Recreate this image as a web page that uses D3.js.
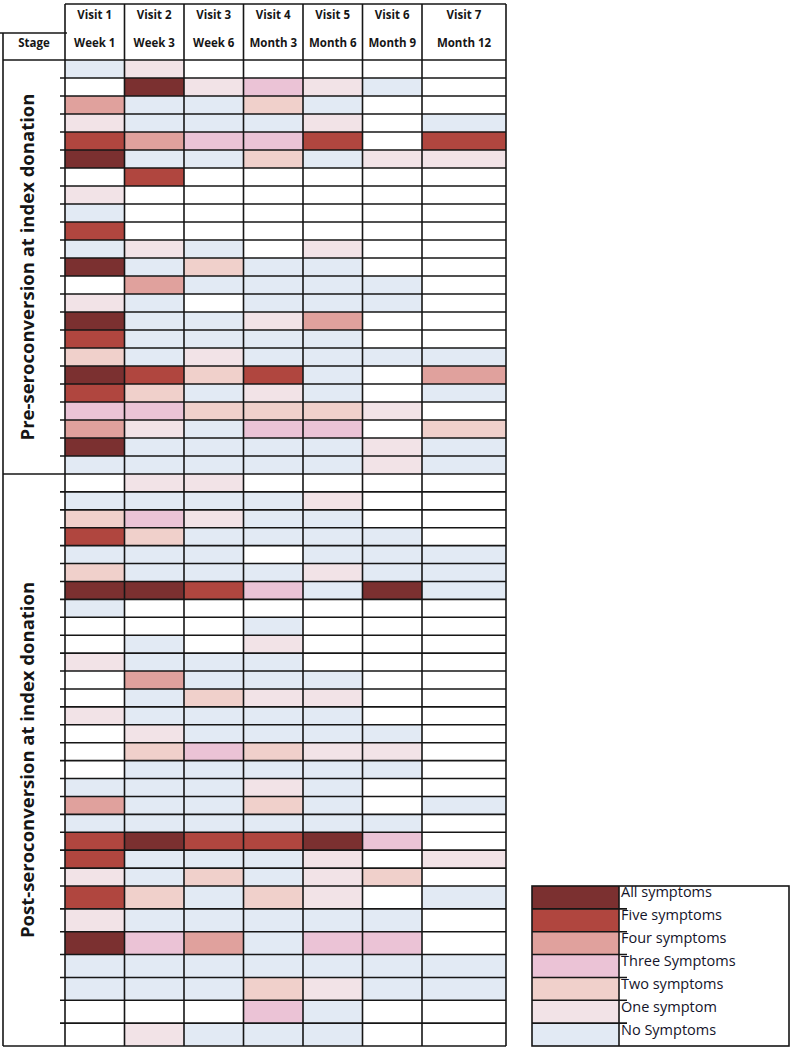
<!DOCTYPE html>
<html><head><meta charset="utf-8">
<script src="https://cdn.jsdelivr.net/npm/d3@7"></script>
<style>body{margin:0;background:#fff;} svg{display:block;font-family:"Open Sans",sans-serif;}</style>
</head><body><svg id="c" width="796" height="1050"></svg>
<script>
// ---- data ----
const visits = ["Visit 1","Visit 2","Visit 3","Visit 4","Visit 5","Visit 6","Visit 7"];
const timepoints = ["Week 1","Week 3","Week 6","Month 3","Month 6","Month 9","Month 12"];
const stages = ["Pre-seroconversion at index donation","Post-seroconversion at index donation"];
// number of symptoms per participant per visit (6 = all symptoms, null = no visit)
const preRows = [
  [0,1,null,null,null,null,null],
  [null,6,1,3,1,0,null],
  [4,0,0,2,0,null,null],
  [1,0,0,0,1,null,0],
  [5,4,3,3,5,null,5],
  [6,0,0,2,0,1,1],
  [null,5,null,null,null,null,null],
  [1,null,null,null,null,null,null],
  [0,null,null,null,null,null,null],
  [5,null,null,null,null,null,null],
  [0,1,0,null,1,null,null],
  [6,0,2,0,0,null,null],
  [null,4,0,0,0,0,null],
  [1,0,null,0,0,0,null],
  [6,0,0,1,4,null,null],
  [5,0,0,0,0,null,null],
  [2,0,1,0,0,0,0],
  [6,5,2,5,0,null,4],
  [5,2,0,1,0,null,0],
  [3,3,2,2,2,1,null],
  [4,1,0,3,3,null,2],
  [6,0,0,0,0,1,0],
  [0,0,0,0,0,1,0]
];
const postRows = [
  [null,1,1,null,null,null,null],
  [0,0,0,0,1,null,null],
  [2,3,1,0,0,null,null],
  [5,2,0,0,0,0,null],
  [0,0,0,null,0,0,0],
  [2,0,0,0,1,0,0],
  [6,6,5,3,0,6,0],
  [0,null,null,null,null,null,null],
  [null,null,null,0,null,null,null],
  [null,0,null,1,null,null,null],
  [1,0,0,0,null,null,null],
  [null,4,0,0,0,null,null],
  [null,0,2,1,1,null,null],
  [1,0,0,0,0,null,null],
  [null,1,0,0,0,0,null],
  [null,2,3,2,1,1,null],
  [null,0,0,0,0,0,null],
  [0,0,0,1,0,null,null],
  [4,0,0,2,0,null,0],
  [0,0,0,0,0,0,null],
  [5,6,5,5,6,3,null],
  [5,0,0,0,1,null,1],
  [1,0,2,0,1,2,null],
  [5,2,0,2,1,null,0],
  [1,0,0,0,0,0,null],
  [6,3,4,0,3,3,null],
  [0,0,0,0,0,0,0],
  [0,0,0,2,1,0,0],
  [null,null,null,3,0,null,null],
  [null,1,0,0,0,null,null]
];
const levels = [6,5,4,3,2,1,0];
const levelLabels = ["All symptoms","Five symptoms","Four symptoms","Three Symptoms","Two symptoms","One symptom","No Symptoms"];

// ---- layout ----
const svg = d3.select("#c");
const ink = "#161616";
const color = d3.scaleOrdinal().domain(levels)
  .range(["#7b3030","#b0463f","#e0a19d","#ebc3d6","#f0d0cb","#f2e3e7","#e2eaf4"]);
const rows = preRows.concat(postRows);
const nPre = preRows.length, nAll = rows.length;
const x = d3.scaleLinear().domain([0, 6, 7]).range([65, 422, 506]);
const y = d3.scaleLinear().domain([0, nPre, nAll - 7, nAll]).range([60, 474, 886, 1046]);
const stageX0 = 3;

// cells
const cells = [];
rows.forEach((r, i) => r.forEach((v, j) => { if (v !== null) cells.push({i, j, v}); }));
svg.append("g").selectAll("rect").data(cells).join("rect")
  .attr("x", d => x(d.j)).attr("y", d => y(d.i))
  .attr("width", d => x(d.j + 1) - x(d.j)).attr("height", d => y(d.i + 1) - y(d.i))
  .attr("fill", d => color(d.v));

const g = svg.append("g").attr("stroke", ink).attr("stroke-width", 1.6).attr("fill", "none");
// horizontal row lines
d3.range(nAll + 1).forEach(i => {
  const full = (i === 0 || i === nPre || i === nAll);
  g.append("line").attr("x1", full ? stageX0 : x(0) - 5).attr("x2", x(7))
    .attr("y1", y(i)).attr("y2", y(i));
});
// vertical column lines
d3.range(8).forEach(j => {
  g.append("line").attr("x1", x(j)).attr("x2", x(j)).attr("y1", 4).attr("y2", y(nAll));
});
g.append("line").attr("x1", x(0)).attr("x2", x(7)).attr("y1", 4).attr("y2", 4);
g.append("line").attr("x1", 0).attr("x2", x(0) + 2).attr("y1", 33).attr("y2", 33);
g.append("line").attr("x1", stageX0).attr("x2", stageX0).attr("y1", 33).attr("y2", y(nAll));

// header text
const hdr = svg.append("g").attr("font-weight", 700).attr("font-size", 11.5)
  .attr("text-anchor", "middle").attr("fill", ink);
visits.forEach((v, j) => {
  const cx = (x(j) + x(j + 1)) / 2;
  hdr.append("text").attr("x", cx).attr("y", 19).text(v);
  hdr.append("text").attr("x", cx).attr("y", 47).text(timepoints[j]);
});
hdr.append("text").attr("x", (stageX0 + x(0)) / 2).attr("y", 47).text("Stage");

// stage labels (rotated)
const bounds = [[0, nPre], [nPre, nAll]];
stages.forEach((s, k) => {
  const cy = (y(bounds[k][0]) + y(bounds[k][1])) / 2;
  svg.append("text").attr("transform", `translate(34,${cy}) rotate(-90)`)
    .attr("text-anchor", "middle").attr("font-weight", 700).attr("font-size", 18.5)
    .attr("fill", ink).text(s);
});

// legend
const lx0 = 532, lsw = 619, lx1 = 789, r0 = nAll - 7;
const lg = svg.append("g");
lg.selectAll("rect").data(levels).join("rect")
  .attr("x", lx0).attr("y", (d, i) => y(r0 + i)).attr("width", lsw - lx0)
  .attr("height", (d, i) => y(r0 + i + 1) - y(r0 + i)).attr("fill", d => color(d));
const lgl = lg.append("g").attr("stroke", ink).attr("stroke-width", 1.6).attr("fill", "none");
lgl.append("rect").attr("x", lx0).attr("y", y(r0)).attr("width", lx1 - lx0).attr("height", y(nAll) - y(r0));
lgl.append("line").attr("x1", lsw).attr("x2", lsw).attr("y1", y(r0)).attr("y2", y(nAll));
d3.range(1, 7).forEach(i => lgl.append("line").attr("x1", lx0).attr("x2", lsw + 8)
  .attr("y1", y(r0 + i)).attr("y2", y(r0 + i)));
lg.selectAll("text").data(levelLabels).join("text")
  .attr("x", lsw + 2).attr("y", (d, i) => (y(r0 + i) + y(r0 + i + 1)) / 2)
  .attr("font-size", 14.5).attr("fill", "#14142a").text(d => d);
</script></body></html>
